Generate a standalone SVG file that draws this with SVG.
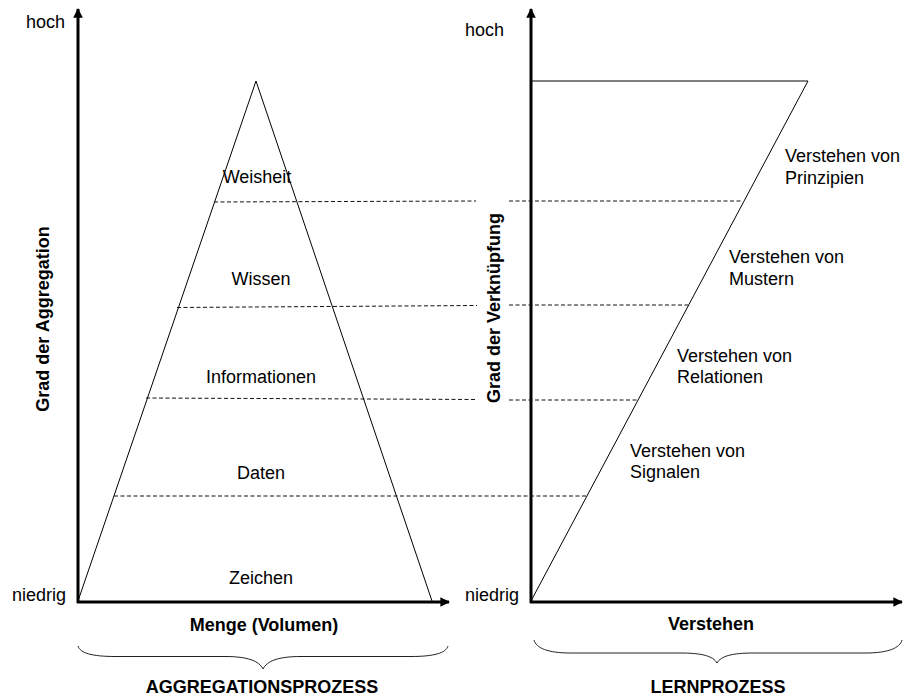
<svg xmlns="http://www.w3.org/2000/svg" width="904" height="697" viewBox="0 0 904 697">
  <defs>
    <style>
      text { font-family: "Liberation Sans", Arial, sans-serif; font-size: 18px; fill: #000; }
      .b { font-weight: bold; }
      .mid { text-anchor: middle; }
      .axis { stroke: #000; stroke-width: 3; fill: none; }
      .thin { stroke: #000; stroke-width: 1; fill: none; }
      .dash { stroke: #111; stroke-width: 1; stroke-dasharray: 4 2.5; fill: none; }
      .brace { stroke: #222; stroke-width: 1; fill: none; }
    </style>
    <marker id="arrow" viewBox="0 0 10 10" refX="9" refY="5" markerWidth="3.4" markerHeight="3.2" orient="auto" markerUnits="strokeWidth">
      <path d="M0,0 L10,5 L0,10 z" fill="#000"/>
    </marker>
  </defs>

  <rect width="904" height="697" fill="#fff"/>

  <!-- Left chart: aggregation pyramid -->
  <g id="aggregation-chart">
    <g id="pyramid">
      <polyline class="thin" points="78,601 256,81 432,601"/>
    </g>
    <g id="layer-labels">
      <text id="weisheit" class="mid" x="257" y="183">Weisheit</text>
      <text id="wissen" class="mid" x="261" y="285">Wissen</text>
      <text id="informationen" class="mid" x="261" y="383">Informationen</text>
      <text id="daten" class="mid" x="261" y="479">Daten</text>
      <text id="zeichen" class="mid" x="261" y="584">Zeichen</text>
    </g>
    <g id="left-axes">
      <line class="axis" x1="78" y1="603" x2="78" y2="9" marker-end="url(#arrow)"/>
      <line class="axis" x1="77" y1="602" x2="449" y2="602" marker-end="url(#arrow)"/>
      <text x="26" y="28">hoch</text>
      <text x="12" y="601">niedrig</text>
      <text class="b mid" transform="translate(49,319) rotate(-90)">Grad der Aggregation</text>
      <text class="b mid" x="264" y="631">Menge (Volumen)</text>
    </g>
    <g id="left-brace">
      <path class="brace" d="M78,646 C80,653 92,656.5 115,656.5 L225,656.5 C248,656.5 259,661 263,669 C267,661 278,656.5 301,656.5 L411,656.5 C434,656.5 446,653 448,646"/>
      <text class="b mid" x="262" y="693">AGGREGATIONSPROZESS</text>
    </g>
  </g>

  <!-- Right chart: learning process -->
  <g id="learning-chart">
    <g id="learning-shape">
      <polyline class="thin" points="531,81 808,81 531,601"/>
    </g>
    <g id="learning-labels">
      <text x="785" y="162">Verstehen von</text>
      <text x="785" y="184">Prinzipien</text>
      <text x="729" y="263">Verstehen von</text>
      <text x="729" y="285">Mustern</text>
      <text x="677" y="362">Verstehen von</text>
      <text x="677" y="383">Relationen</text>
      <text x="630" y="457">Verstehen von</text>
      <text x="630" y="478">Signalen</text>
    </g>
    <g id="right-axes">
      <line class="axis" x1="531" y1="603" x2="531" y2="9" marker-end="url(#arrow)"/>
      <line class="axis" x1="530" y1="602" x2="902" y2="602" marker-end="url(#arrow)"/>
      <text x="465" y="36">hoch</text>
      <text x="465" y="601">niedrig</text>
      <text class="b mid" transform="translate(500,308) rotate(-90)">Grad der Verknüpfung</text>
      <text class="b mid" x="711" y="630">Verstehen</text>
    </g>
    <g id="right-brace">
      <path class="brace" d="M534,640 C536,648 548,653 570,653 L680,653 C702,653 713,656 717,663 C721,656 732,653 754,653 L866,653 C888,653 900,648 902,640"/>
      <text class="b mid" x="718" y="693">LERNPROZESS</text>
    </g>
  </g>

  <!-- Dashed level connectors between the two charts -->
  <g id="connectors">
    <line class="dash" x1="214" y1="202" x2="476" y2="201"/>
    <line class="dash" x1="509" y1="201" x2="742" y2="201"/>
    <line class="dash" x1="177" y1="307.5" x2="477" y2="305.5"/>
    <line class="dash" x1="509" y1="305" x2="688" y2="305"/>
    <line class="dash" x1="146" y1="398" x2="477" y2="399.5"/>
    <line class="dash" x1="509" y1="400" x2="637" y2="400"/>
    <line class="dash" x1="114" y1="496" x2="586" y2="496"/>
  </g>
</svg>
